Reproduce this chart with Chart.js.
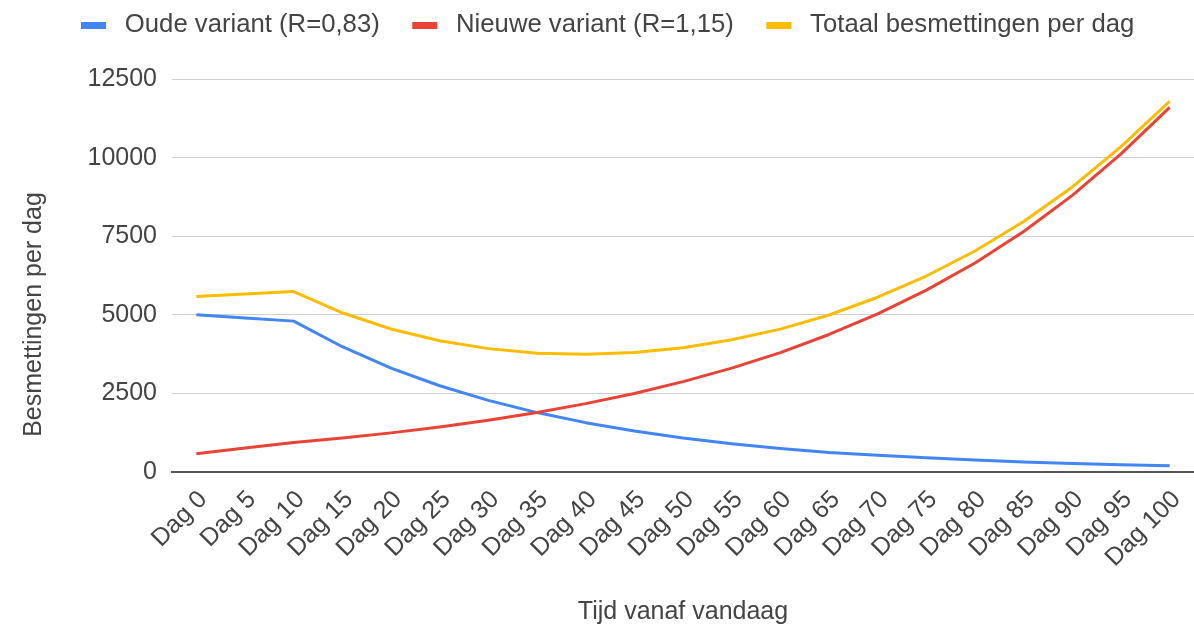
<!DOCTYPE html>
<html>
<head>
<meta charset="utf-8">
<script src="https://cdn.jsdelivr.net/npm/chart.js@4/dist/chart.umd.min.js"></script>
<style>
html,body{margin:0;background:#fff}
#wrap{width:1194px;height:629px}
</style>
</head>
<body>
<div id="wrap"><canvas id="grafiek"></canvas></div>
<script>
/* ===== gegevens ===== */
const dagen=['Dag 0','Dag 5','Dag 10','Dag 15','Dag 20','Dag 25','Dag 30','Dag 35','Dag 40','Dag 45','Dag 50',
  'Dag 55','Dag 60','Dag 65','Dag 70','Dag 75','Dag 80','Dag 85','Dag 90','Dag 95','Dag 100'];
const oude=[5000,4900,4800,3985,3305,2745,2280,1890,1570,1305,1080,900,745,620,530,450,380,320,270,230,195];
const nieuwe=[580,760,940,1080,1245,1430,1645,1890,2175,2500,2875,3305,3800,4375,5030,5785,6650,7650,8800,10120,11600];
const totaal=[5580,5660,5740,5065,4550,4175,3925,3780,3745,3805,3955,4205,4545,4995,5560,6235,7030,7970,9070,10350,11795];
const namen=['Oude variant (R=0,83)','Nieuwe variant (R=1,15)','Totaal besmettingen per dag'];
const kleuren=['#4285F4','#EA4335','#FBBC04'];
const yMax=12500,yStap=2500;
const xTitel='Tijd vanaf vandaag',yTitel='Besmettingen per dag';

/* ===== stijl ===== */
const TEKST='#444',FONT='"Liberation Sans", Arial, sans-serif';
Chart.defaults.font.family=FONT;
Chart.defaults.font.size=25;
Chart.defaults.color=TEKST;

/* legendamarker: balkje met lege ruimte links, zodat tekst en items ruim staan */
const marker=kleur=>{
  const m=document.createElement('canvas');m.width=54;m.height=7;
  const g=m.getContext('2d');g.fillStyle=kleur;g.fillRect(23,0,25,7);
  return m;
};

/* extra ruimte onder de legenda */
const legendaRuimte={id:'legendaRuimte',afterInit(chart){
  const lg=chart.legend,fit=lg.fit;
  lg.fit=function(){fit.call(this);this.height+=31.2;};
}};

/* astitel links, verticaal gecentreerd op het hele beeld */
const yAsTitel={id:'yAsTitel',afterDraw(chart){
  const ctx=chart.ctx;ctx.save();
  ctx.translate(34,chart.height/2);ctx.rotate(-Math.PI/2);
  ctx.font='25px '+FONT;ctx.fillStyle=TEKST;ctx.textAlign='center';ctx.textBaseline='middle';
  ctx.fillText(yTitel,0,0);ctx.restore();
}};

const reeks=(i,data,volgorde)=>({label:namen[i],data,borderColor:kleuren[i],backgroundColor:kleuren[i],
  borderWidth:3,pointRadius:0,pointHoverRadius:0,pointStyle:marker(kleuren[i]),tension:0,
  borderJoinStyle:'round',fill:false,order:volgorde});

new Chart(document.getElementById('grafiek'),{
  type:'line',
  data:{labels:dagen,datasets:[reeks(0,oude,3),reeks(1,nieuwe,2),reeks(2,totaal,1)]},
  options:{
    responsive:true,maintainAspectRatio:false,animation:false,
    layout:{padding:{left:48.5,top:2.7,right:0,bottom:0}},
    plugins:{
      tooltip:{enabled:false},
      legend:{position:'top',align:'start',
        labels:{usePointStyle:true,pointStyleWidth:54,padding:9.5,color:TEKST,font:{size:25.7},
          sort:(a,b)=>a.datasetIndex-b.datasetIndex}}
    },
    scales:{
      x:{offset:true,
        grid:{display:false,drawTicks:false},
        border:{display:true,color:'#555',width:2},
        ticks:{autoSkip:false,minRotation:45,maxRotation:45,padding:13,labelOffset:7,color:TEKST,font:{size:25}},
        title:{display:true,text:xTitel,color:TEKST,font:{size:25},padding:{top:0,bottom:2}},
        afterFit:s=>{s.height=157;s.paddingLeft=0;s.paddingRight=0;}
      },
      y:{min:0,max:yMax,
        grid:{color:'#cfcfcf',lineWidth:1,drawTicks:false},
        border:{display:false},
        ticks:{stepSize:yStap,padding:15,color:TEKST,font:{size:25},callback:v=>String(v)},
        afterFit:s=>{s.width=123.5;}
      }
    }
  },
  plugins:[legendaRuimte,yAsTitel]
});
</script>
</body>
</html>
